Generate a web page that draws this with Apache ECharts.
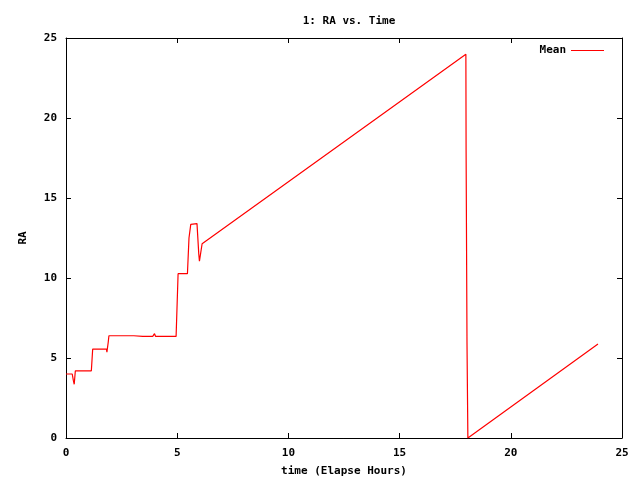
<!DOCTYPE html>
<html>
<head>
<meta charset="utf-8">
<script src="https://cdn.jsdelivr.net/npm/echarts@6/dist/echarts.min.js"></script>
<style>
html, body { margin: 0; padding: 0; background: #fff; }
#chart { width: 640px; height: 480px; }
</style>
</head>
<body>
<div id="chart"></div>
<script>
// elapsed hours and mean RA
const timeHours = [0, 0.28, 0.33, 0.37, 0.42, 0.46, 1.14, 1.2, 1.82, 1.84, 1.9, 1.93,
	3.05, 3.08, 3.12, 3.45, 3.9, 3.98, 4.03, 4.95, 5.04, 5.46, 5.53, 5.61, 5.89,
	5.97, 6.0, 6.12, 17.98, 17.99, 18.03, 18.07, 23.92];
const meanRA = [4.0, 4.0, 3.6, 3.36, 4.2, 4.2, 4.2, 5.56, 5.56, 5.37, 6.0, 6.39,
	6.39, 6.32, 6.39, 6.35, 6.35, 6.52, 6.35, 6.35, 10.27, 10.27, 12.5, 13.35, 13.4,
	11.5, 11.05, 12.14, 23.98, 18.0, 6.0, 0, 5.87];
const xTicks = [0, 25, 5];
const yTicks = [0, 25, 5];

const font = "'DejaVu Sans Mono', monospace";
const chart = echarts.init(document.getElementById("chart"));

let points = timeHours.map((t, i) => [t, meanRA[i]]);

function axisBase(pos, ticks, labels, margin) {
	return {
		type: "value",
		position: pos,
		min: ticks[0],
		max: ticks[1],
		interval: ticks[2],
		splitLine: { show: false },
		axisLine: { show: true, onZero: false, lineStyle: { color: "#000", width: 1 } },
		axisTick: { show: true, inside: true, length: 5, lineStyle: { color: "#000" } },
		axisLabel: { show: labels, color: "#000", fontFamily: font, fontWeight: "bold", fontSize: 11, margin: margin || 8 }
	};
}

let option = {
	animation: false,
	backgroundColor: "#fff",
	title: {
		text: "1: RA vs. Time",
		left: 344,
		textAlign: "center",
		top: 11,
		textStyle: { color: "#000", fontFamily: font, fontWeight: "bold", fontSize: 11 }
	},
	legend: {
		data: ["Mean"],
		right: 31,
		top: 40,
		align: "right",
		icon: "rect",
		itemWidth: 33,
		itemHeight: 1,
		itemGap: 8,
		textStyle: { color: "#000", fontFamily: font, fontWeight: "bold", fontSize: 11 }
	},
	grid: { left: 66, right: 18, top: 38, bottom: 42, outerBoundsMode: "none", containLabel: false },
	xAxis: [
		Object.assign(axisBase("bottom", xTicks, true, 10), {
			name: "time (Elapse Hours)",
			nameLocation: "middle",
			nameGap: 28,
			nameTextStyle: { color: "#000", fontFamily: font, fontWeight: "bold", fontSize: 11 }
		}),
		axisBase("top", xTicks, false)
	],
	yAxis: [
		Object.assign(axisBase("left", yTicks, true, 9), {
			name: "RA",
			nameLocation: "middle",
			nameGap: 37,
			nameTextStyle: { color: "#000", fontFamily: font, fontWeight: "bold", fontSize: 11 }
		}),
		axisBase("right", yTicks, false)
	],
	series: [{
		name: "Mean",
		type: "line",
		data: points,
		symbol: "none",
		color: "#ff0000",
		lineStyle: { color: "#ff0000", width: 1.2 }
	}]
};
chart.setOption(option);
</script>
</body>
</html>
